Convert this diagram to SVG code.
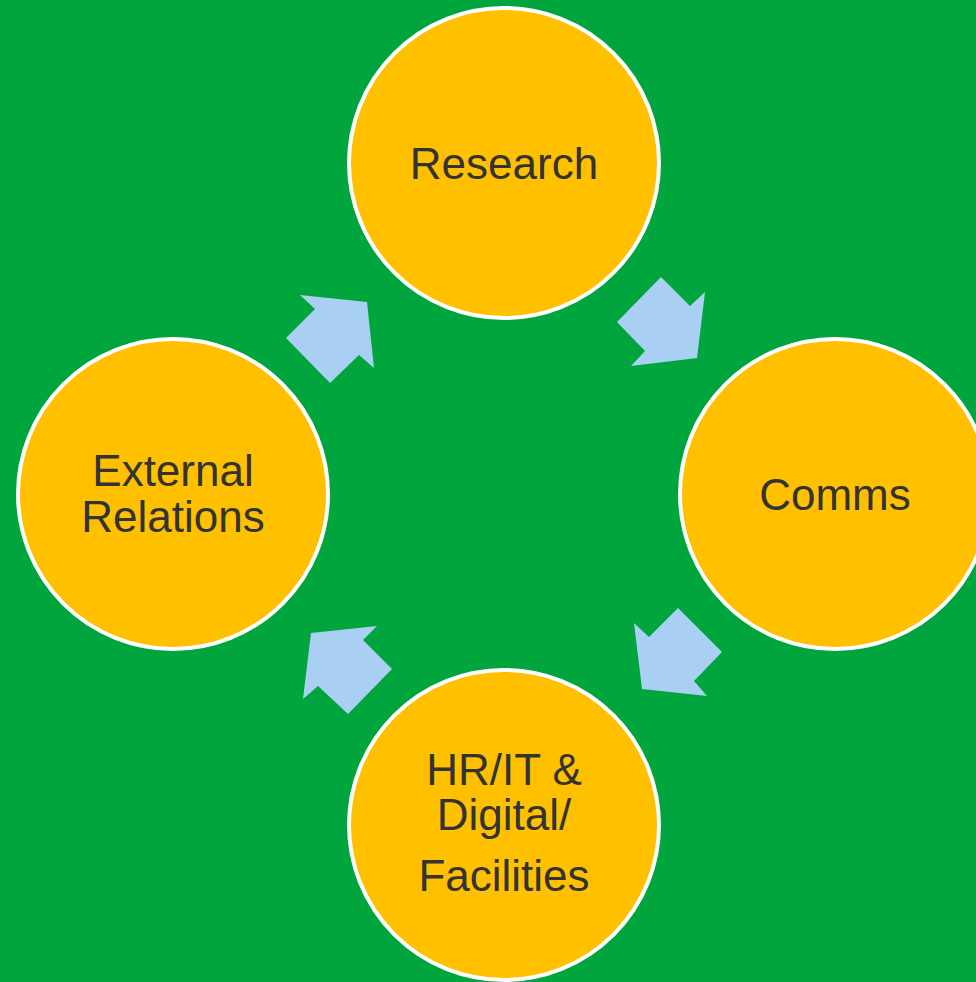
<svg xmlns="http://www.w3.org/2000/svg" width="976" height="982" viewBox="0 0 976 982">
  <style>
    .node circle { fill: #FFC000; stroke: #FFFFFF; stroke-width: 4; }
    .node text { font-family: "Liberation Sans", Arial, sans-serif; font-size: 44px; fill: #333333; text-anchor: middle; }
    .arrow { fill: #A9D0F3; stroke: none; }
  </style>
  <rect x="0" y="0" width="976" height="982" fill="#00A53D"/>

  <g id="connectors">
    <polygon class="arrow" points="286,338 315,309 300,295 367,302 374,368 359,355 330,383"/>
    <polygon class="arrow" points="661,277 690,306 705,292 697,358 631,366 645,351 617,322"/>
    <polygon class="arrow" points="678,608 722,652 694,681 707,696 642,689 634,623 649,637"/>
    <polygon class="arrow" points="377,626 363,640 392,669 348,714 318,686 303,699 311,633"/>
  </g>

  <g id="research" class="node">
    <circle cx="504" cy="163" r="155"/>
    <text x="504" y="179">Research</text>
  </g>

  <g id="comms" class="node">
    <circle cx="835" cy="494" r="155"/>
    <text x="835" y="510">Comms</text>
  </g>

  <g id="hr-it" class="node">
    <circle cx="504" cy="825" r="155"/>
    <text x="504" y="785">HR/IT &amp;</text>
    <text x="504" y="830">Digital/</text>
    <text x="504" y="891">Facilities</text>
  </g>

  <g id="external-relations" class="node">
    <circle cx="173" cy="494" r="155"/>
    <text x="173" y="486">External</text>
    <text x="173" y="532">Relations</text>
  </g>
</svg>
